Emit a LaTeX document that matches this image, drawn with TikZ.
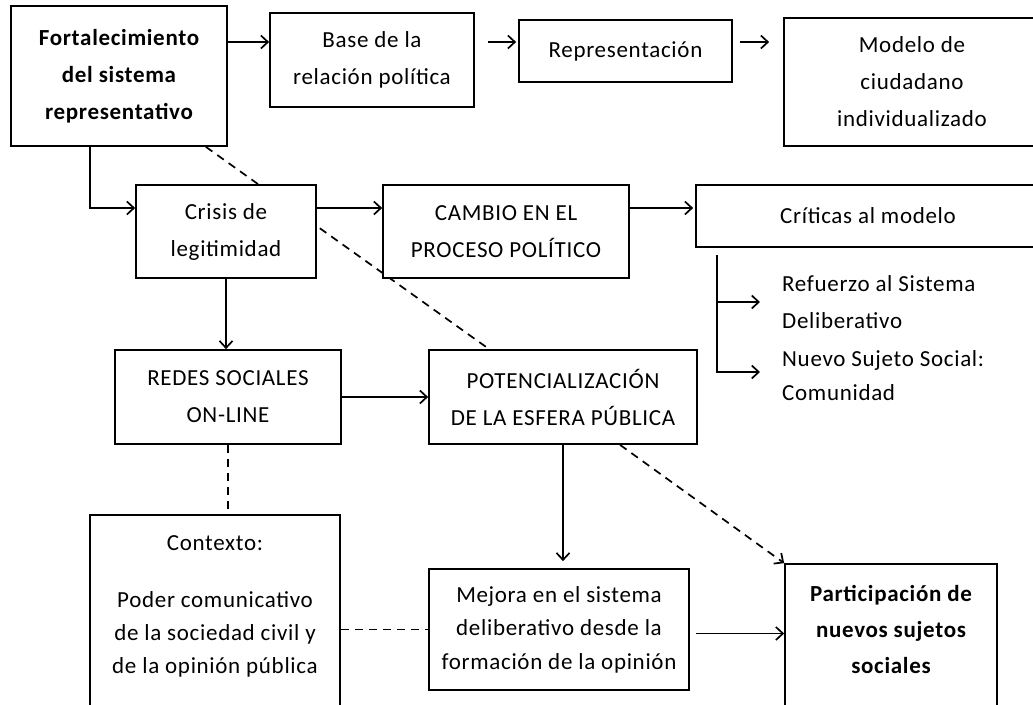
\documentclass[tikz,border=0pt]{standalone}
\usepackage{fontspec}
\setmainfont[LetterSpace=3]{Carlito}
\usetikzlibrary{arrows.meta,backgrounds}

\begin{document}
\begin{tikzpicture}[
    x=1pt, y=-1pt,
    box/.style={draw, line width=1.7pt, fill=white, align=center, inner sep=0pt, font=\fontsize{23}{37}\selectfont},
    note/.style={anchor=west, align=left, inner sep=0pt, inner xsep=22pt, font=\fontsize{23}{37}\selectfont},
    arr/.style={-{Straight Barb[length=7pt,width=13pt]}, line width=1.7pt},
    dsh/.style={line width=1.7pt, dash pattern=on 8pt off 6pt}
]
    \useasboundingbox (0,0) rectangle (1033,704);
    \clip (0,0) rectangle (1033,704);

    \node[box, minimum width=216pt, minimum height=140pt] (fort) at (119,76) {\bfseries Fortalecimiento\\ \bfseries del sistema\\ \bfseries representativo};
    \node[box, minimum width=204pt, minimum height=94pt] (base) at (372,60) {Base de la\\ relación política};
    \node[box, minimum width=213pt, minimum height=62pt] (repr) at (625.5,51) {Representación};
    \node[box, minimum width=256pt, minimum height=128pt] (modelo) at (912,82) {Modelo de\\ ciudadano\\ individualizado};
    \node[box, minimum width=180pt, minimum height=93pt] (crisis) at (226,231.5) {Crisis de\\ legitimidad};
    \node[box, minimum width=246pt, minimum height=93pt] (cambio) at (506,231.5) {CAMBIO EN EL\\ PROCESO POLÍTICO};
    \node[box, minimum width=344pt, minimum height=62pt] (criticas) at (868,216) {Críticas al modelo};
    \node[box, minimum width=226pt, minimum height=94pt] (redes) at (228,397) {REDES SOCIALES\\ ON-LINE};
    \node[box, minimum width=268pt, minimum height=94pt] (pot) at (563,397) {POTENCIALIZACIÓN\\ DE LA ESFERA PÚBLICA};
    \node[box, minimum width=250pt, minimum height=230pt, font=\fontsize{23}{33}\selectfont] (contexto) at (215,630) {Contexto:\\[24pt] Poder comunicativo\\ de la sociedad civil y\\ de la opinión pública\\[18pt] \mbox{}};
    \node[box, minimum width=260pt, minimum height=121pt, font=\fontsize{23}{33.5}\selectfont] (mejora) at (559,629.5) {Mejora en el sistema\\ deliberativo desde la\\ formación de la opinión};
    \node[box, minimum width=212pt, minimum height=200pt, font=\fontsize{23}{36}\selectfont] (part) at (891,664) {\bfseries Participación de\\ \bfseries nuevos sujetos\\ \bfseries sociales\\[34pt] \mbox{}};

    \node[note] (refuerzo) at (760,302) {Refuerzo al Sistema\\ Deliberativo};
    \node[note, font=\fontsize{23}{34}\selectfont] (nuevo) at (760,376) {Nuevo Sujeto Social:\\ Comunidad};

    \coordinate (row1) at (0,42);
    \coordinate (row2) at (0,208);
    \coordinate (brk) at (717,255);

    % first row
    \draw[arr] (fort.east |- row1) -- (base.west |- row1);
    \draw[arr, shorten <=13pt, shorten >=2pt] (base.east |- row1) -- (repr.west |- row1);
    \draw[arr, shorten <=7pt, shorten >=14pt] (repr.east |- row1) -- (modelo.west |- row1);

    % second row
    \draw[arr] ([xshift=-29pt]fort.south) |- (crisis.west |- row2);
    \draw[arr] (crisis.east |- row2) -- (cambio.west |- row2);
    \draw[arr, shorten >=2pt] (cambio.east |- row2) -- (criticas.west |- row2);
    \draw[arr] (brk) |- ([yshift=4pt]nuevo.west);
    \draw[arr] (brk |- refuerzo.west) -- (refuerzo.west);

    % lower part
    \draw[arr] (crisis.south) -- (crisis.south |- redes.north);
    \draw[arr] (redes.east) -- (pot.west);
    \draw[arr, shorten >=7pt] (pot.south) -- (pot.south |- mejora.north);
    \draw[arr, shorten <=6pt] ([yshift=-4pt]mejora.east) -- ([yshift=-4pt]mejora.east -| part.west);
    \draw[dsh, -{Straight Barb[length=7pt,width=13pt]}] ([xshift=57pt]pot.south) -- (part.north west);
    \draw[dsh] (redes.south) -- (redes.south |- contexto.north);
    \draw[dsh] (contexto.east |- mejora.west) -- (mejora.west);

    \begin{pgfonlayer}{background}
        \draw[dsh] ([xshift=-22pt]fort.south east) -- ([xshift=61pt]pot.north west);
    \end{pgfonlayer}
\end{tikzpicture}
\end{document}
